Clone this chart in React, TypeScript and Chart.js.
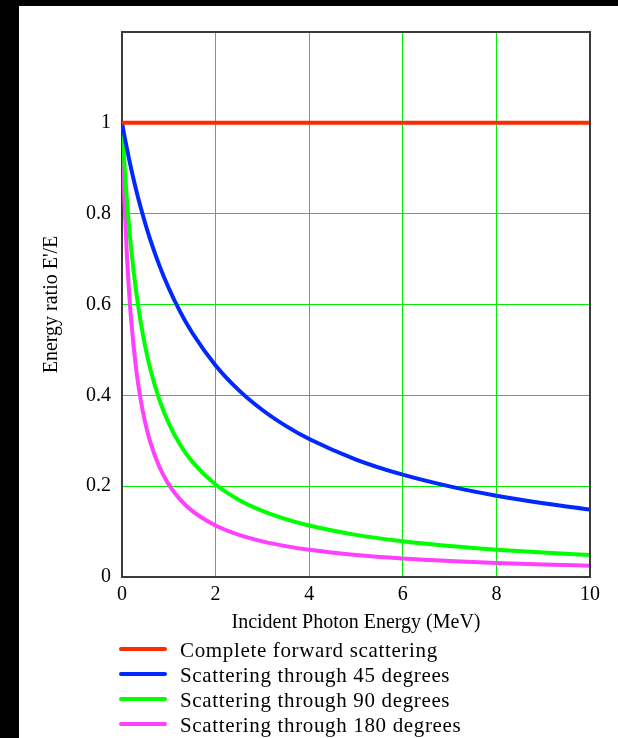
import React, { useEffect, useRef } from "react";
import { Chart, registerables } from "chart.js";

Chart.register(...registerables);

// Incident photon energy (MeV)
const energies = [0, 0.05, 0.1, 0.15, 0.2, 0.3, 0.4, 0.5, 0.6, 0.8, 1, 1.25, 1.5, 2, 2.5, 3, 3.5, 4, 5, 6, 7, 8, 9, 10];
// Energy ratio E'/E for each case
const forward = [1, 1, 1, 1, 1, 1, 1, 1, 1, 1, 1, 1, 1, 1, 1, 1, 1, 1, 1, 1, 1, 1, 1, 1];
const deg45 = [1, 0.9721, 0.9458, 0.9208, 0.8971, 0.8533, 0.8135, 0.7772, 0.7441, 0.6856, 0.6357, 0.5826, 0.5377, 0.4659, 0.411, 0.3677, 0.3327, 0.3037, 0.2587, 0.2253, 0.1995, 0.179, 0.1624, 0.1485];
const deg90 = [1, 0.9109, 0.8363, 0.7731, 0.7187, 0.6301, 0.5609, 0.5054, 0.4599, 0.3898, 0.3382, 0.2902, 0.2541, 0.2035, 0.1697, 0.1455, 0.1274, 0.1133, 0.0927, 0.0785, 0.068, 0.06, 0.0537, 0.0486];
const deg180 = [1, 0.8363, 0.7187, 0.6301, 0.5609, 0.4599, 0.3898, 0.3382, 0.2987, 0.2421, 0.2035, 0.1697, 0.1455, 0.1133, 0.0927, 0.0785, 0.068, 0.06, 0.0486, 0.0408, 0.0352, 0.0309, 0.0276, 0.0249];

const seriesLabels = [
  "Complete forward scattering",
  "Scattering through 45 degrees",
  "Scattering through 90 degrees",
  "Scattering through 180 degrees",
];
const xTitle = "Incident Photon Energy (MeV)";
const yTitle = "Energy ratio E'/E";

const FONT = "'Liberation Serif', 'Times New Roman', serif";

const toPoints = (ys: number[]) => energies.map((x, i) => ({ x, y: ys[i] }));

const backgroundPlugin = {
  id: "bg",
  beforeDraw(chart: any) {
    const { ctx, width, height } = chart;
    ctx.save();
    ctx.fillStyle = "#000000";
    ctx.fillRect(0, 0, width, height);
    ctx.fillStyle = "#ffffff";
    ctx.fillRect(19, 6, width - 19, height - 6);
    ctx.restore();
  },
};

const framePlugin = {
  id: "frame",
  afterDatasetsDraw(chart: any) {
    const { ctx, chartArea } = chart;
    ctx.save();
    ctx.strokeStyle = "#3a3a3a";
    ctx.lineWidth = 2;
    ctx.beginPath();
    ctx.moveTo(chartArea.left, chartArea.top);
    ctx.lineTo(chartArea.right, chartArea.top);
    ctx.lineTo(chartArea.right, chartArea.bottom);
    ctx.stroke();
    ctx.restore();
  },
};

const legendPlugin = {
  id: "customLegend",
  afterDraw(chart: any) {
    const { ctx } = chart;
    ctx.save();
    chart.data.datasets.forEach((ds: any, i: number) => {
      const y = 649 + i * 25;
      ctx.strokeStyle = ds.borderColor;
      ctx.lineWidth = 4;
      ctx.lineCap = "round";
      ctx.beginPath();
      ctx.moveTo(121, y);
      ctx.lineTo(165, y);
      ctx.stroke();
      ctx.fillStyle = "#000000";
      ctx.font = `21px ${FONT}`;
      (ctx as any).letterSpacing = "0.65px";
      ctx.textAlign = "left";
      ctx.textBaseline = "alphabetic";
      ctx.fillText(ds.label, 180, y + 8);
    });
    ctx.restore();
  },
};

export default function App() {
  const ref = useRef<HTMLCanvasElement>(null);

  useEffect(() => {
    const colors = ["#ff2a00", "#0028ff", "#00ff00", "#ff40ff"];
    const series = [forward, deg45, deg90, deg180];
    const chart = new Chart(ref.current as HTMLCanvasElement, {
      type: "line",
      data: {
        datasets: series.map((s, i) => ({
          label: seriesLabels[i],
          data: toPoints(s),
          borderColor: colors[i],
          backgroundColor: colors[i],
          borderWidth: 4,
          pointRadius: 0,
          fill: false,
          cubicInterpolationMode: "monotone" as const,
        })),
      },
      options: {
        responsive: false,
        animation: false,
        devicePixelRatio: 1,
        layout: { padding: { left: 0, top: 32, right: 28, bottom: 0 } },
        plugins: {
          legend: { display: false },
          tooltip: { enabled: false },
        },
        scales: {
          x: {
            type: "linear",
            min: 0,
            max: 10,
            afterFit(scale: any) {
              scale.height = 161;
            },
            ticks: {
              stepSize: 2,
              color: "#000000",
              padding: 6,
              maxRotation: 0,
              font: { family: FONT, size: 20 },
              callback: (v: any) => String(v),
            },
            grid: {
              drawTicks: false,
              lineWidth: 1,
              color: (c: any) => (c.tick && (c.tick.value === 0 || c.tick.value === 10) ? "rgba(0,0,0,0)" : "#00ee00"),
            },
            border: { display: true, color: "#3a3a3a", width: 2 },
            title: {
              display: true,
              text: xTitle,
              color: "#000000",
              font: { family: FONT, size: 20 },
              padding: { top: 0, bottom: 103 },
            },
          },
          y: {
            type: "linear",
            min: 0,
            max: 1.2,
            afterFit(scale: any) {
              scale.width = 122;
            },
            ticks: {
              stepSize: 0.2,
              color: "#000000",
              padding: 11,
              font: { family: FONT, size: 20 },
              callback: (v: any) => {
                const r = Math.round(Number(v) * 10) / 10;
                return r >= 1.2 ? "" : String(r);
              },
            },
            grid: {
              drawTicks: false,
              lineWidth: 1,
              color: (c: any) => {
                const v = c.tick ? Math.round(c.tick.value * 10) / 10 : -1;
                return v === 0 || v === 1.2 ? "rgba(0,0,0,0)" : "#00ee00";
              },
            },
            border: { display: true, color: "#3a3a3a", width: 2 },
            title: {
              display: true,
              text: yTitle,
              color: "#000000",
              font: { family: FONT, size: 20 },
              padding: { top: 40, bottom: 0 },
            },
          },
        },
      },
      plugins: [backgroundPlugin, framePlugin, legendPlugin],
    });
    return () => chart.destroy();
  }, []);

  return (
    <div style={{ position: "absolute", left: 0, top: 0, width: 618, height: 738 }}>
      <canvas ref={ref} width={618} height={738} style={{ display: "block", width: 618, height: 738 }} />
    </div>
  );
}
